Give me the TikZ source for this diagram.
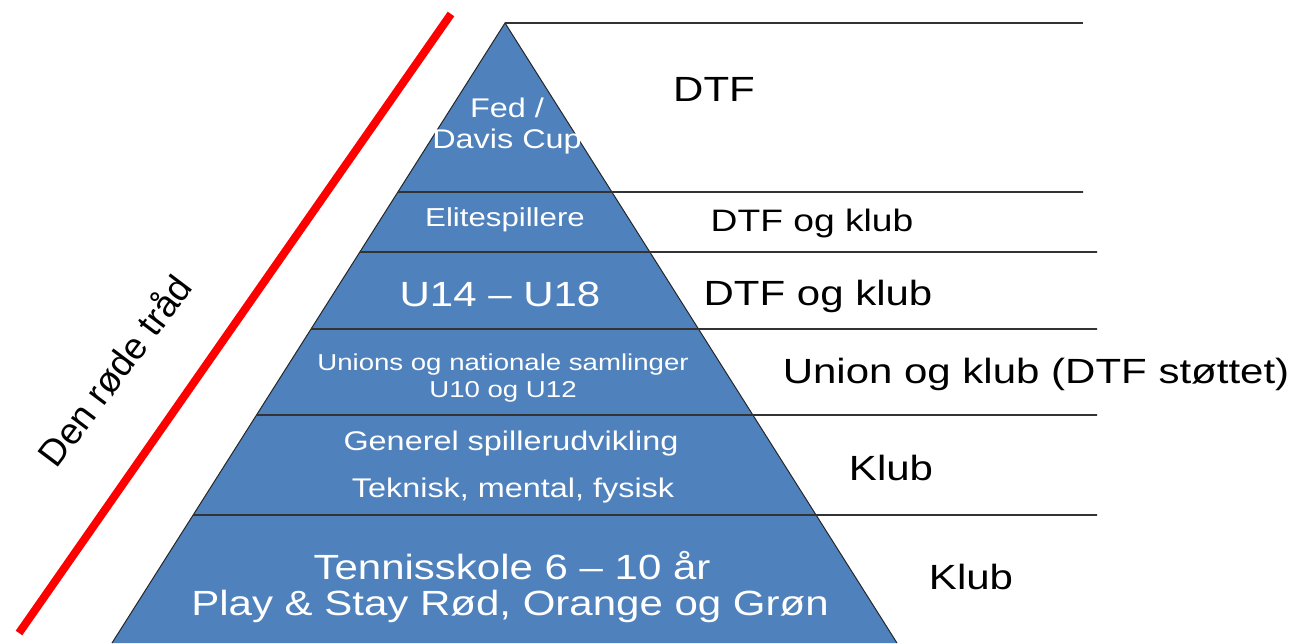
\documentclass[tikz,border=0pt]{standalone}
\usepackage{fontspec}
\setmainfont[FakeStretch=1.2]{Liberation Sans}
\newfontfamily\plainsans{Liberation Sans}
\usepackage{xcolor}
\usetikzlibrary{calc,positioning}
\definecolor{pyrblue}{HTML}{4F81BD}

\begin{document}
\begin{tikzpicture}[x=0.5pt,y=-0.5pt,
  pyrtext/.style={text=white,anchor=base,inner sep=0pt},
  sidetext/.style={text=black,anchor=base,inner sep=0pt,font=\fontsize{17.5}{21}\selectfont},
  level/.style={draw=black!80,line width=0.8pt}]
\useasboundingbox (0,0) rectangle (1293,643);
\coordinate (apex) at (505,23);
\coordinate (bl) at (112,643);
\coordinate (br) at (897,643);
\fill[pyrblue] (apex) -- (bl) -- (br) -- cycle;
\draw[black!85,line width=0.5pt] (bl) -- (apex) -- (br);

\draw[level] (apex) -- (1083,23);
\foreach \y/\xr in {192/1083,252/1097,329/1097,415/1097,515/1097}
  \draw[level] ($(apex)!{(\y-23)/620}!(bl)$) -- (\xr,\y);

\coordinate (rtop) at (451,14);
\coordinate (rbot) at (19,633);
\draw[red,line width=4pt] (rtop) -- (rbot);
\node[rotate=53,inner sep=0pt,font=\plainsans\fontsize{18.5}{22}\selectfont] (thread) at (114,370) {Den røde tråd};

\node[pyrtext,font=\fontsize{13.5}{16}\selectfont] (fed) at (507,117) {Fed /};
\node[pyrtext,font=\fontsize{13.5}{16}\selectfont] (davis) at (507,148) {Davis Cup};
\node[pyrtext,font=\fontsize{13}{16}\selectfont] (elite) at (505,226) {Elitespillere};
\node[pyrtext,font=\fontsize{17.5}{21}\selectfont] (u14) at (500,306) {U14 – U18};
\node[pyrtext,font=\fontsize{11.5}{14}\selectfont] (unions) at (503,370) {Unions og nationale samlinger};
\node[pyrtext,font=\fontsize{11.5}{14}\selectfont] (u10) at (503,397) {U10 og U12};
\node[pyrtext,font=\fontsize{13.5}{16}\selectfont] (generel) at (511,450) {Generel spillerudvikling};
\node[pyrtext,font=\fontsize{13.5}{16}\selectfont] (teknisk) at (513,497) {Teknisk, mental, fysisk};
\node[pyrtext,font=\fontsize{17.5}{21}\selectfont] (tennis) at (512,579) {Tennisskole 6 – 10 år};
\node[pyrtext,font=\fontsize{17.5}{21}\selectfont] (play) at (510,615) {Play \& Stay Rød, Orange og Grøn};

\node[sidetext] (dtf) at (714,101) {DTF};
\node[sidetext,font=\fontsize{15.5}{19}\selectfont] (dtfklub1) at (812,231) {DTF og klub};
\node[sidetext] (dtfklub2) at (818,305) {DTF og klub};
\node[sidetext] (union) at (1036,383) {Union og klub (DTF støttet)};
\node[sidetext] (klub1) at (891,480) {Klub};
\node[sidetext] (klub2) at (971,589) {Klub};
\end{tikzpicture}
\end{document}
